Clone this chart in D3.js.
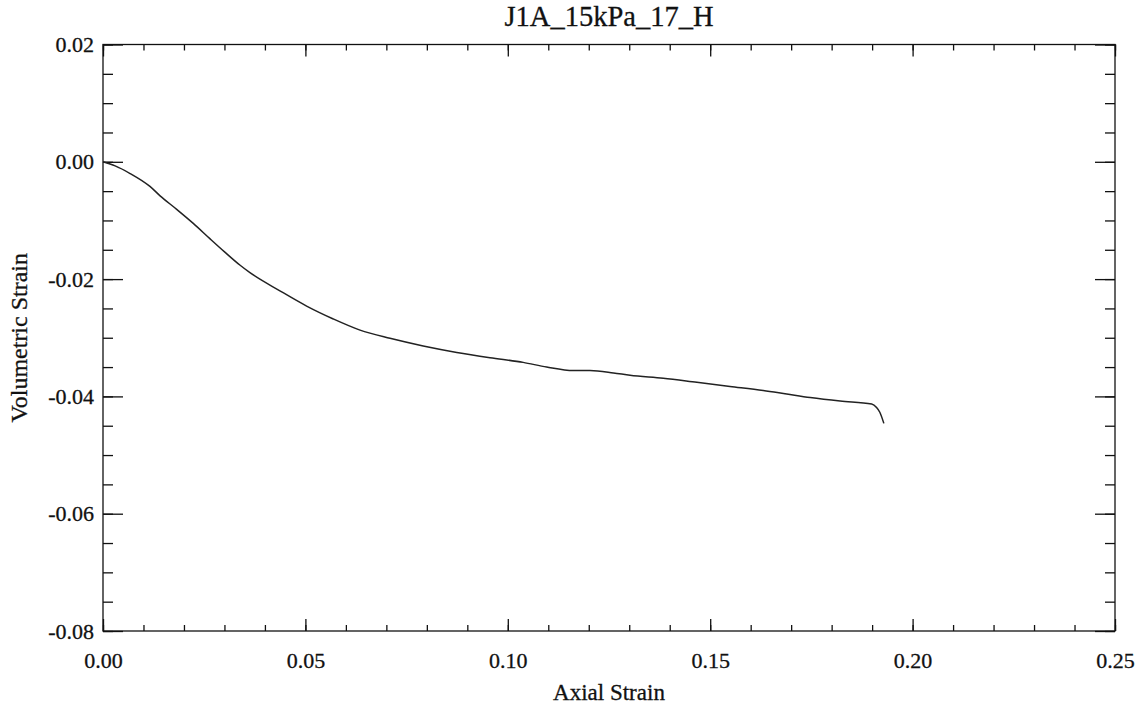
<!DOCTYPE html>
<html>
<head>
<meta charset="utf-8">
<script src="https://cdn.jsdelivr.net/npm/d3@7"></script>
<style>
  body { margin: 0; background: #fff; }
  svg text { font-family: "Liberation Serif", "DejaVu Serif", serif; fill: #111; stroke: #111; stroke-width: 0.3; }
</style>
</head>
<body>
<svg id="chart" width="1141" height="706"></svg>
<script>
// ---------------------------------------------------
// DATA
// ---------------------------------------------------
var chartTitle = "J1A_15kPa_17_H";
var xTitle = "Axial Strain";
var yTitle = "Volumetric Strain";

var axialStrain = [0.0000, 0.0030, 0.0067, 0.0116, 0.0141, 0.0182, 0.0223, 0.0264, 0.0301, 0.0338,
                   0.0363, 0.0437, 0.0503, 0.0569, 0.0635, 0.0709, 0.0791, 0.0874, 0.0956, 0.1038,
                   0.1096, 0.1162, 0.1203, 0.1261, 0.1302, 0.1384, 0.1467, 0.1549, 0.1631, 0.1689,
                   0.1747, 0.1821, 0.1899, 0.1911, 0.1919, 0.1929];
var volStrain   = [0.0000, -0.0007, -0.0020, -0.0042, -0.0058, -0.0081, -0.0105, -0.0131, -0.0154, -0.0176,
                   -0.0189, -0.0220, -0.0246, -0.0268, -0.0287, -0.0301, -0.0314, -0.0325, -0.0334, -0.0342,
                   -0.0350, -0.0356, -0.0356, -0.0360, -0.0364, -0.0369, -0.0376, -0.0383, -0.0390, -0.0396,
                   -0.0402, -0.0408, -0.0413, -0.0419, -0.0427, -0.0446];

var xTicks = [0, 0.05, 0.10, 0.15, 0.20, 0.25];
var yTicks = [-0.08, -0.06, -0.04, -0.02, 0.00, 0.02];

// ---------------------------------------------------
// Setup
// ---------------------------------------------------
var svg = d3.select("#chart"),
    margin = {top: 44.5, right: 26, bottom: 75, left: 103},
    width = +svg.attr("width") - margin.left - margin.right,
    height = +svg.attr("height") - margin.top - margin.bottom,
    g = svg.append("g").attr("transform", "translate(" + margin.left + "," + margin.top + ")");

var x = d3.scaleLinear().domain([0, 0.25]).range([0, width]);
var y = d3.scaleLinear().domain([-0.08, 0.02]).range([height, 0]);

var fmt = function(d) { return d.toFixed(2); };
var xMinor = d3.range(0, 0.2501, 0.01);
var yMinor = d3.range(-0.08, 0.0201, 0.005);

function styleAxis(sel) {
    sel.attr("font-family", null).attr("font-size", null);
    sel.select(".domain").remove();
    sel.selectAll("line").attr("stroke", "#111").attr("stroke-width", 1.3);
    sel.selectAll("text").attr("font-size", 22).attr("fill", "#111");
}

// minor ticks
g.append("g").attr("transform", "translate(0," + height + ")")
    .call(d3.axisBottom(x).tickValues(xMinor).tickSize(-6).tickFormat(""))
    .call(styleAxis);
g.append("g")
    .call(d3.axisTop(x).tickValues(xMinor).tickSize(-6).tickFormat(""))
    .call(styleAxis);
g.append("g")
    .call(d3.axisLeft(y).tickValues(yMinor).tickSize(-10).tickFormat(""))
    .call(styleAxis);
g.append("g").attr("transform", "translate(" + width + ",0)")
    .call(d3.axisRight(y).tickValues(yMinor).tickSize(-10).tickFormat(""))
    .call(styleAxis);

// major ticks + labels
g.append("g").attr("transform", "translate(0," + height + ")")
    .call(d3.axisBottom(x).tickValues(xTicks).tickSizeInner(-12).tickSizeOuter(0).tickPadding(21).tickFormat(fmt))
    .call(styleAxis);
g.append("g")
    .call(d3.axisTop(x).tickValues(xTicks).tickSize(-12).tickFormat(""))
    .call(styleAxis);
g.append("g")
    .call(d3.axisLeft(y).tickValues(yTicks).tickSizeInner(-20).tickSizeOuter(0).tickPadding(9).tickFormat(fmt))
    .call(styleAxis);
g.append("g").attr("transform", "translate(" + width + ",0)")
    .call(d3.axisRight(y).tickValues(yTicks).tickSize(-20).tickFormat(""))
    .call(styleAxis);

// plot box
g.append("rect")
    .attr("width", width)
    .attr("height", height)
    .attr("fill", "none")
    .attr("stroke", "#111")
    .attr("stroke-width", 1.3);

// curve
var pts = axialStrain.map(function(d, i) { return [d, volStrain[i]]; });
g.append("path")
    .datum(pts)
    .attr("fill", "none")
    .attr("stroke", "#222")
    .attr("stroke-width", 1.5)
    .attr("d", d3.line()
        .curve(d3.curveMonotoneX)
        .x(function(d) { return x(d[0]); })
        .y(function(d) { return y(d[1]); }));

// titles
svg.append("text")
    .attr("x", margin.left + width / 2)
    .attr("y", 26)
    .attr("text-anchor", "middle")
    .attr("font-size", 28.5)
    .text(chartTitle);

svg.append("text")
    .attr("x", margin.left + width / 2)
    .attr("y", 700)
    .attr("text-anchor", "middle")
    .attr("font-size", 23)
    .text(xTitle);

svg.append("text")
    .attr("transform", "translate(27," + (margin.top + height / 2) + ") rotate(-90)")
    .attr("text-anchor", "middle")
    .attr("font-size", 24)
    .text(yTitle);
</script>
</body>
</html>
